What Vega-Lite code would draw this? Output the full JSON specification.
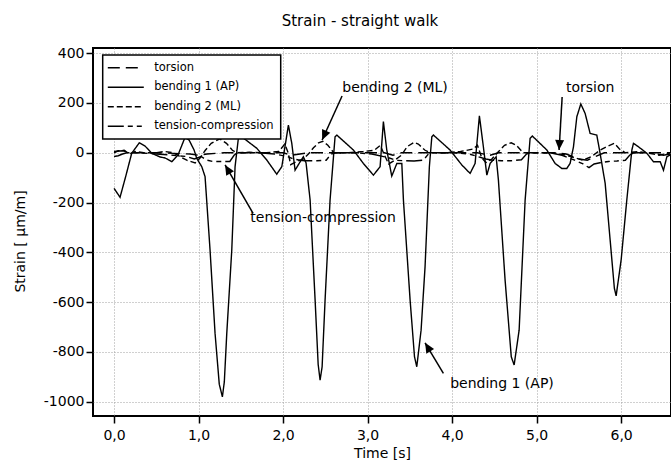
{
  "$schema": "https://vega.github.io/schema/vega-lite/v6.json",
  "width": 578,
  "height": 368,
  "autosize": "none",
  "padding": {"left": 93, "top": 48, "right": 0, "bottom": 49},
  "background": "white",
  "config": {
    "font": "DejaVu Sans",
    "view": {"stroke": "black", "strokeWidth": 2},
    "axis": {
      "domain": false,
      "grid": true,
      "gridColor": "#a0a0a0",
      "gridDash": [1, 2],
      "gridWidth": 1,
      "tickColor": "black",
      "tickWidth": 1.5,
      "tickSize": 7,
      "labelColor": "black",
      "labelFontSize": 14,
      "labelFont": "DejaVu Sans",
      "titleFont": "DejaVu Sans",
      "titleFontSize": 14,
      "titleFontWeight": "normal",
      "titleColor": "black"
    }
  },
  "title": {
    "text": "Strain - straight walk",
    "fontSize": 15,
    "fontWeight": "normal",
    "font": "DejaVu Sans",
    "color": "black",
    "dx": -22,
    "offset": 17
  },
  "datasets": {
    "curves": [
      {"s": "bending 1 (AP)", "t": 0.000, "v": -143},
      {"s": "bending 1 (AP)", "t": 0.071, "v": -179},
      {"s": "bending 1 (AP)", "t": 0.142, "v": -90},
      {"s": "bending 1 (AP)", "t": 0.209, "v": -2},
      {"s": "bending 1 (AP)", "t": 0.299, "v": 40},
      {"s": "bending 1 (AP)", "t": 0.367, "v": 27},
      {"s": "bending 1 (AP)", "t": 0.446, "v": -2},
      {"s": "bending 1 (AP)", "t": 0.544, "v": -17},
      {"s": "bending 1 (AP)", "t": 0.604, "v": -21},
      {"s": "bending 1 (AP)", "t": 0.683, "v": -36},
      {"s": "bending 1 (AP)", "t": 0.757, "v": -9},
      {"s": "bending 1 (AP)", "t": 0.840, "v": 62},
      {"s": "bending 1 (AP)", "t": 0.888, "v": 51},
      {"s": "bending 1 (AP)", "t": 0.947, "v": 11},
      {"s": "bending 1 (AP)", "t": 0.979, "v": -23},
      {"s": "bending 1 (AP)", "t": 1.038, "v": -56},
      {"s": "bending 1 (AP)", "t": 1.077, "v": -96},
      {"s": "bending 1 (AP)", "t": 1.136, "v": -391},
      {"s": "bending 1 (AP)", "t": 1.195, "v": -725},
      {"s": "bending 1 (AP)", "t": 1.245, "v": -930},
      {"s": "bending 1 (AP)", "t": 1.282, "v": -981},
      {"s": "bending 1 (AP)", "t": 1.305, "v": -920},
      {"s": "bending 1 (AP)", "t": 1.334, "v": -725},
      {"s": "bending 1 (AP)", "t": 1.393, "v": -391},
      {"s": "bending 1 (AP)", "t": 1.432, "v": -56},
      {"s": "bending 1 (AP)", "t": 1.471, "v": 58},
      {"s": "bending 1 (AP)", "t": 1.511, "v": 64},
      {"s": "bending 1 (AP)", "t": 1.689, "v": 18},
      {"s": "bending 1 (AP)", "t": 1.807, "v": -29},
      {"s": "bending 1 (AP)", "t": 1.925, "v": -86},
      {"s": "bending 1 (AP)", "t": 1.985, "v": -56},
      {"s": "bending 1 (AP)", "t": 2.063, "v": 111},
      {"s": "bending 1 (AP)", "t": 2.103, "v": 38},
      {"s": "bending 1 (AP)", "t": 2.142, "v": -70},
      {"s": "bending 1 (AP)", "t": 2.201, "v": -37},
      {"s": "bending 1 (AP)", "t": 2.240, "v": -16},
      {"s": "bending 1 (AP)", "t": 2.272, "v": -41},
      {"s": "bending 1 (AP)", "t": 2.320, "v": -190},
      {"s": "bending 1 (AP)", "t": 2.379, "v": -592},
      {"s": "bending 1 (AP)", "t": 2.415, "v": -850},
      {"s": "bending 1 (AP)", "t": 2.438, "v": -914},
      {"s": "bending 1 (AP)", "t": 2.462, "v": -860},
      {"s": "bending 1 (AP)", "t": 2.497, "v": -592},
      {"s": "bending 1 (AP)", "t": 2.556, "v": -190},
      {"s": "bending 1 (AP)", "t": 2.615, "v": 64},
      {"s": "bending 1 (AP)", "t": 2.636, "v": 71},
      {"s": "bending 1 (AP)", "t": 2.832, "v": 11},
      {"s": "bending 1 (AP)", "t": 2.950, "v": -43},
      {"s": "bending 1 (AP)", "t": 3.069, "v": -90},
      {"s": "bending 1 (AP)", "t": 3.148, "v": -56},
      {"s": "bending 1 (AP)", "t": 3.187, "v": 125},
      {"s": "bending 1 (AP)", "t": 3.227, "v": 11},
      {"s": "bending 1 (AP)", "t": 3.286, "v": -94},
      {"s": "bending 1 (AP)", "t": 3.346, "v": -43},
      {"s": "bending 1 (AP)", "t": 3.405, "v": -43},
      {"s": "bending 1 (AP)", "t": 3.424, "v": -190},
      {"s": "bending 1 (AP)", "t": 3.503, "v": -592},
      {"s": "bending 1 (AP)", "t": 3.555, "v": -820},
      {"s": "bending 1 (AP)", "t": 3.582, "v": -860},
      {"s": "bending 1 (AP)", "t": 3.633, "v": -713},
      {"s": "bending 1 (AP)", "t": 3.680, "v": -458},
      {"s": "bending 1 (AP)", "t": 3.731, "v": -56},
      {"s": "bending 1 (AP)", "t": 3.760, "v": 64},
      {"s": "bending 1 (AP)", "t": 3.779, "v": 71},
      {"s": "bending 1 (AP)", "t": 3.976, "v": 11},
      {"s": "bending 1 (AP)", "t": 4.115, "v": -49},
      {"s": "bending 1 (AP)", "t": 4.213, "v": -83},
      {"s": "bending 1 (AP)", "t": 4.272, "v": -43},
      {"s": "bending 1 (AP)", "t": 4.323, "v": 148},
      {"s": "bending 1 (AP)", "t": 4.370, "v": 24},
      {"s": "bending 1 (AP)", "t": 4.411, "v": -90},
      {"s": "bending 1 (AP)", "t": 4.450, "v": -43},
      {"s": "bending 1 (AP)", "t": 4.521, "v": -16},
      {"s": "bending 1 (AP)", "t": 4.548, "v": -110},
      {"s": "bending 1 (AP)", "t": 4.627, "v": -512},
      {"s": "bending 1 (AP)", "t": 4.700, "v": -820},
      {"s": "bending 1 (AP)", "t": 4.734, "v": -853},
      {"s": "bending 1 (AP)", "t": 4.793, "v": -713},
      {"s": "bending 1 (AP)", "t": 4.864, "v": -190},
      {"s": "bending 1 (AP)", "t": 4.923, "v": 58},
      {"s": "bending 1 (AP)", "t": 4.950, "v": 67},
      {"s": "bending 1 (AP)", "t": 5.121, "v": 11},
      {"s": "bending 1 (AP)", "t": 5.219, "v": -43},
      {"s": "bending 1 (AP)", "t": 5.298, "v": -63},
      {"s": "bending 1 (AP)", "t": 5.357, "v": -63},
      {"s": "bending 1 (AP)", "t": 5.396, "v": -43},
      {"s": "bending 1 (AP)", "t": 5.436, "v": 24},
      {"s": "bending 1 (AP)", "t": 5.476, "v": 145},
      {"s": "bending 1 (AP)", "t": 5.523, "v": 196},
      {"s": "bending 1 (AP)", "t": 5.574, "v": 158},
      {"s": "bending 1 (AP)", "t": 5.633, "v": 78},
      {"s": "bending 1 (AP)", "t": 5.712, "v": 71},
      {"s": "bending 1 (AP)", "t": 5.751, "v": -2},
      {"s": "bending 1 (AP)", "t": 5.811, "v": -123},
      {"s": "bending 1 (AP)", "t": 5.870, "v": -351},
      {"s": "bending 1 (AP)", "t": 5.920, "v": -545},
      {"s": "bending 1 (AP)", "t": 5.941, "v": -575},
      {"s": "bending 1 (AP)", "t": 6.000, "v": -431},
      {"s": "bending 1 (AP)", "t": 6.067, "v": -190},
      {"s": "bending 1 (AP)", "t": 6.127, "v": 11},
      {"s": "bending 1 (AP)", "t": 6.146, "v": 38},
      {"s": "bending 1 (AP)", "t": 6.205, "v": 24},
      {"s": "bending 1 (AP)", "t": 6.304, "v": -2},
      {"s": "bending 1 (AP)", "t": 6.382, "v": -36},
      {"s": "bending 1 (AP)", "t": 6.462, "v": -36},
      {"s": "bending 1 (AP)", "t": 6.501, "v": -70},
      {"s": "bending 1 (AP)", "t": 6.541, "v": -16},
      {"s": "bending 1 (AP)", "t": 6.580, "v": -9},

      {"s": "bending 2 (ML)", "t": 0.00, "v": 0},
      {"s": "bending 2 (ML)", "t": 0.05, "v": 8},
      {"s": "bending 2 (ML)", "t": 0.12, "v": 10},
      {"s": "bending 2 (ML)", "t": 0.18, "v": -5},
      {"s": "bending 2 (ML)", "t": 0.25, "v": 5},
      {"s": "bending 2 (ML)", "t": 0.35, "v": 0},
      {"s": "bending 2 (ML)", "t": 0.50, "v": 0},
      {"s": "bending 2 (ML)", "t": 0.60, "v": 5},
      {"s": "bending 2 (ML)", "t": 0.70, "v": 0},
      {"s": "bending 2 (ML)", "t": 0.78, "v": -15},
      {"s": "bending 2 (ML)", "t": 0.86, "v": -30},
      {"s": "bending 2 (ML)", "t": 0.96, "v": -41},
      {"s": "bending 2 (ML)", "t": 1.02, "v": -20},
      {"s": "bending 2 (ML)", "t": 1.08, "v": 10},
      {"s": "bending 2 (ML)", "t": 1.15, "v": 38},
      {"s": "bending 2 (ML)", "t": 1.25, "v": 56},
      {"s": "bending 2 (ML)", "t": 1.33, "v": 38},
      {"s": "bending 2 (ML)", "t": 1.40, "v": 10},
      {"s": "bending 2 (ML)", "t": 1.45, "v": 0},
      {"s": "bending 2 (ML)", "t": 1.60, "v": 2},
      {"s": "bending 2 (ML)", "t": 1.80, "v": 0},
      {"s": "bending 2 (ML)", "t": 1.95, "v": 5},
      {"s": "bending 2 (ML)", "t": 2.02, "v": 35},
      {"s": "bending 2 (ML)", "t": 2.06, "v": 0},
      {"s": "bending 2 (ML)", "t": 2.09, "v": -48},
      {"s": "bending 2 (ML)", "t": 2.16, "v": -35},
      {"s": "bending 2 (ML)", "t": 2.24, "v": -25},
      {"s": "bending 2 (ML)", "t": 2.30, "v": -5},
      {"s": "bending 2 (ML)", "t": 2.36, "v": 20},
      {"s": "bending 2 (ML)", "t": 2.42, "v": 40},
      {"s": "bending 2 (ML)", "t": 2.47, "v": 46},
      {"s": "bending 2 (ML)", "t": 2.53, "v": 30},
      {"s": "bending 2 (ML)", "t": 2.60, "v": 0},
      {"s": "bending 2 (ML)", "t": 2.75, "v": 0},
      {"s": "bending 2 (ML)", "t": 2.95, "v": 5},
      {"s": "bending 2 (ML)", "t": 3.08, "v": 10},
      {"s": "bending 2 (ML)", "t": 3.15, "v": 30},
      {"s": "bending 2 (ML)", "t": 3.20, "v": -10},
      {"s": "bending 2 (ML)", "t": 3.25, "v": -45},
      {"s": "bending 2 (ML)", "t": 3.32, "v": -30},
      {"s": "bending 2 (ML)", "t": 3.40, "v": -10},
      {"s": "bending 2 (ML)", "t": 3.47, "v": 25},
      {"s": "bending 2 (ML)", "t": 3.55, "v": 42},
      {"s": "bending 2 (ML)", "t": 3.60, "v": 35},
      {"s": "bending 2 (ML)", "t": 3.68, "v": 10},
      {"s": "bending 2 (ML)", "t": 3.74, "v": 0},
      {"s": "bending 2 (ML)", "t": 3.90, "v": 0},
      {"s": "bending 2 (ML)", "t": 4.10, "v": 5},
      {"s": "bending 2 (ML)", "t": 4.25, "v": 15},
      {"s": "bending 2 (ML)", "t": 4.30, "v": 30},
      {"s": "bending 2 (ML)", "t": 4.35, "v": -20},
      {"s": "bending 2 (ML)", "t": 4.40, "v": -40},
      {"s": "bending 2 (ML)", "t": 4.47, "v": -25},
      {"s": "bending 2 (ML)", "t": 4.55, "v": 5},
      {"s": "bending 2 (ML)", "t": 4.62, "v": 30},
      {"s": "bending 2 (ML)", "t": 4.70, "v": 40},
      {"s": "bending 2 (ML)", "t": 4.76, "v": 30},
      {"s": "bending 2 (ML)", "t": 4.84, "v": 0},
      {"s": "bending 2 (ML)", "t": 5.00, "v": 0},
      {"s": "bending 2 (ML)", "t": 5.20, "v": 0},
      {"s": "bending 2 (ML)", "t": 5.35, "v": -10},
      {"s": "bending 2 (ML)", "t": 5.45, "v": -20},
      {"s": "bending 2 (ML)", "t": 5.55, "v": -30},
      {"s": "bending 2 (ML)", "t": 5.65, "v": -15},
      {"s": "bending 2 (ML)", "t": 5.75, "v": 10},
      {"s": "bending 2 (ML)", "t": 5.83, "v": 25},
      {"s": "bending 2 (ML)", "t": 5.92, "v": 38},
      {"s": "bending 2 (ML)", "t": 5.98, "v": 15},
      {"s": "bending 2 (ML)", "t": 6.05, "v": 0},
      {"s": "bending 2 (ML)", "t": 6.20, "v": 5},
      {"s": "bending 2 (ML)", "t": 6.30, "v": 0},
      {"s": "bending 2 (ML)", "t": 6.45, "v": -10},
      {"s": "bending 2 (ML)", "t": 6.58, "v": 0},

      {"s": "tension-compression", "t": 0.00, "v": -15},
      {"s": "tension-compression", "t": 0.05, "v": -12},
      {"s": "tension-compression", "t": 0.10, "v": -5},
      {"s": "tension-compression", "t": 0.15, "v": 0},
      {"s": "tension-compression", "t": 0.30, "v": 0},
      {"s": "tension-compression", "t": 0.50, "v": -5},
      {"s": "tension-compression", "t": 0.70, "v": -10},
      {"s": "tension-compression", "t": 0.85, "v": -15},
      {"s": "tension-compression", "t": 0.95, "v": -25},
      {"s": "tension-compression", "t": 1.03, "v": -15},
      {"s": "tension-compression", "t": 1.10, "v": -30},
      {"s": "tension-compression", "t": 1.17, "v": -35},
      {"s": "tension-compression", "t": 1.25, "v": -35},
      {"s": "tension-compression", "t": 1.37, "v": -35},
      {"s": "tension-compression", "t": 1.42, "v": -10},
      {"s": "tension-compression", "t": 1.46, "v": 0},
      {"s": "tension-compression", "t": 1.70, "v": 0},
      {"s": "tension-compression", "t": 1.90, "v": -5},
      {"s": "tension-compression", "t": 2.05, "v": -15},
      {"s": "tension-compression", "t": 2.12, "v": -25},
      {"s": "tension-compression", "t": 2.20, "v": -30},
      {"s": "tension-compression", "t": 2.26, "v": -32},
      {"s": "tension-compression", "t": 2.40, "v": -32},
      {"s": "tension-compression", "t": 2.51, "v": -30},
      {"s": "tension-compression", "t": 2.57, "v": -5},
      {"s": "tension-compression", "t": 2.62, "v": 0},
      {"s": "tension-compression", "t": 2.85, "v": 0},
      {"s": "tension-compression", "t": 3.05, "v": -5},
      {"s": "tension-compression", "t": 3.25, "v": -20},
      {"s": "tension-compression", "t": 3.33, "v": -30},
      {"s": "tension-compression", "t": 3.42, "v": -32},
      {"s": "tension-compression", "t": 3.55, "v": -33},
      {"s": "tension-compression", "t": 3.66, "v": -30},
      {"s": "tension-compression", "t": 3.72, "v": -5},
      {"s": "tension-compression", "t": 3.77, "v": 0},
      {"s": "tension-compression", "t": 4.00, "v": 0},
      {"s": "tension-compression", "t": 4.20, "v": -5},
      {"s": "tension-compression", "t": 4.40, "v": -25},
      {"s": "tension-compression", "t": 4.48, "v": -30},
      {"s": "tension-compression", "t": 4.58, "v": -32},
      {"s": "tension-compression", "t": 4.70, "v": -32},
      {"s": "tension-compression", "t": 4.82, "v": -28},
      {"s": "tension-compression", "t": 4.88, "v": -5},
      {"s": "tension-compression", "t": 4.93, "v": 0},
      {"s": "tension-compression", "t": 5.15, "v": 0},
      {"s": "tension-compression", "t": 5.30, "v": -10},
      {"s": "tension-compression", "t": 5.45, "v": -30},
      {"s": "tension-compression", "t": 5.55, "v": -45},
      {"s": "tension-compression", "t": 5.62, "v": -60},
      {"s": "tension-compression", "t": 5.68, "v": -45},
      {"s": "tension-compression", "t": 5.75, "v": -40},
      {"s": "tension-compression", "t": 5.85, "v": -35},
      {"s": "tension-compression", "t": 5.95, "v": -33},
      {"s": "tension-compression", "t": 6.05, "v": -30},
      {"s": "tension-compression", "t": 6.10, "v": -10},
      {"s": "tension-compression", "t": 6.15, "v": 0},
      {"s": "tension-compression", "t": 6.35, "v": 0},
      {"s": "tension-compression", "t": 6.50, "v": -10},
      {"s": "tension-compression", "t": 6.58, "v": -5},

      {"s": "torsion", "t": 0.00, "v": 5},
      {"s": "torsion", "t": 0.10, "v": 8},
      {"s": "torsion", "t": 0.20, "v": 0},
      {"s": "torsion", "t": 0.50, "v": 0},
      {"s": "torsion", "t": 0.90, "v": -5},
      {"s": "torsion", "t": 1.00, "v": -10},
      {"s": "torsion", "t": 1.10, "v": -5},
      {"s": "torsion", "t": 1.30, "v": 0},
      {"s": "torsion", "t": 2.00, "v": 0},
      {"s": "torsion", "t": 2.10, "v": -10},
      {"s": "torsion", "t": 2.20, "v": -5},
      {"s": "torsion", "t": 2.30, "v": 0},
      {"s": "torsion", "t": 3.20, "v": 0},
      {"s": "torsion", "t": 3.30, "v": -10},
      {"s": "torsion", "t": 3.40, "v": 0},
      {"s": "torsion", "t": 4.30, "v": 0},
      {"s": "torsion", "t": 4.45, "v": -10},
      {"s": "torsion", "t": 4.55, "v": 0},
      {"s": "torsion", "t": 5.20, "v": 0},
      {"s": "torsion", "t": 5.35, "v": -5},
      {"s": "torsion", "t": 5.50, "v": -25},
      {"s": "torsion", "t": 5.60, "v": -30},
      {"s": "torsion", "t": 5.70, "v": -15},
      {"s": "torsion", "t": 5.80, "v": 0},
      {"s": "torsion", "t": 6.58, "v": 0}
    ],
    "arrows": [
      {"id": "b2", "t": 2.698, "v": 228, "t2": 2.462, "v2": 51},
      {"id": "to", "t": 5.302, "v": 224, "t2": 5.266, "v2": 11},
      {"id": "tc", "t": 1.645, "v": -244, "t2": 1.314, "v2": -49},
      {"id": "b1", "t": 3.897, "v": -887, "t2": 3.680, "v2": -764}
    ],
    "notes": [
      {"label": "bending 2 (ML)", "t": 3.325, "v": 260},
      {"label": "torsion", "t": 5.633, "v": 260},
      {"label": "tension-compression", "t": 2.473, "v": -262},
      {"label": "bending 1 (AP)", "t": 4.59, "v": -930}
    ]
  },
  "layer": [
    {
      "data": {"name": "curves"},
      "mark": {"type": "line", "color": "black", "strokeWidth": 1.4, "clip": true},
      "encoding": {
        "x": {
          "field": "t", "type": "quantitative",
          "scale": {"domain": [-0.249, 6.59], "nice": false, "zero": false},
          "axis": {
            "values": [0, 1, 2, 3, 4, 5, 6],
            "labelExpr": "replace(format(datum.value, '.1f'), '.', ',')",
            "title": "Time [s]",
            "labelPadding": 5,
            "titlePadding": 4
          }
        },
        "y": {
          "field": "v", "type": "quantitative",
          "scale": {"domain": [-1058, 421], "nice": false, "zero": false},
          "axis": {
            "values": [-1000, -800, -600, -400, -200, 0, 200, 400],
            "labelExpr": "'' + datum.value",
            "title": "Strain [ µm/m]",
            "labelPadding": 2,
            "titleX": -73,
            "titleY": 193,
            "titleBaseline": "middle"
          }
        },
        "strokeDash": {
          "field": "s", "type": "nominal",
          "scale": {
            "domain": ["torsion", "bending 1 (AP)", "bending 2 (ML)", "tension-compression"],
            "range": [[12, 6], [1, 0], [6, 3], [16, 4, 5, 4, 5, 4]]
          },
          "legend": {
            "title": null,
            "orient": "none",
            "legendX": 9.7,
            "legendY": 7,
            "fillColor": "white",
            "strokeColor": "black",
            "padding": 7,
            "symbolType": "M-1.7,0H6.3",
            "symbolSize": 81,
            "symbolStrokeWidth": 1.4,
            "symbolStrokeColor": "black",
            "labelFontSize": 11.5,
            "labelFont": "DejaVu Sans",
            "labelColor": "black",
            "labelOffset": 33,
            "rowPadding": 6.5,
            "encode": {"legend": {"update": {"strokeWidth": {"value": 1.5}}}}
          }
        },
        "order": {"field": "t", "type": "quantitative"}
      }
    },
    {
      "data": {"name": "arrows"},
      "mark": {"type": "rule", "color": "black", "strokeWidth": 1.5},
      "encoding": {
        "x": {"field": "t", "type": "quantitative"},
        "y": {"field": "v", "type": "quantitative"},
        "x2": {"field": "t2"},
        "y2": {"field": "v2"}
      }
    },
    {
      "data": {"name": "arrows"},
      "transform": [{"filter": "datum.id == 'b2'"}],
      "mark": {"type": "point", "shape": "M0,0L-0.45,1L0.45,1Z", "filled": true, "color": "black", "opacity": 1, "size": 400, "angle": 204},
      "encoding": {"x": {"field": "t2", "type": "quantitative"}, "y": {"field": "v2", "type": "quantitative"}}
    },
    {
      "data": {"name": "arrows"},
      "transform": [{"filter": "datum.id == 'to'"}],
      "mark": {"type": "point", "shape": "M0,0L-0.45,1L0.45,1Z", "filled": true, "color": "black", "opacity": 1, "size": 400, "angle": 183},
      "encoding": {"x": {"field": "t2", "type": "quantitative"}, "y": {"field": "v2", "type": "quantitative"}}
    },
    {
      "data": {"name": "arrows"},
      "transform": [{"filter": "datum.id == 'tc'"}],
      "mark": {"type": "point", "shape": "M0,0L-0.45,1L0.45,1Z", "filled": true, "color": "black", "opacity": 1, "size": 400, "angle": 330},
      "encoding": {"x": {"field": "t2", "type": "quantitative"}, "y": {"field": "v2", "type": "quantitative"}}
    },
    {
      "data": {"name": "arrows"},
      "transform": [{"filter": "datum.id == 'b1'"}],
      "mark": {"type": "point", "shape": "M0,0L-0.45,1L0.45,1Z", "filled": true, "color": "black", "opacity": 1, "size": 400, "angle": 329},
      "encoding": {"x": {"field": "t2", "type": "quantitative"}, "y": {"field": "v2", "type": "quantitative"}}
    },
    {
      "data": {"name": "notes"},
      "mark": {"type": "text", "fontSize": 14, "font": "DejaVu Sans", "color": "black", "align": "center", "baseline": "middle"},
      "encoding": {
        "x": {"field": "t", "type": "quantitative"},
        "y": {"field": "v", "type": "quantitative"},
        "text": {"field": "label"}
      }
    }
  ]
}
